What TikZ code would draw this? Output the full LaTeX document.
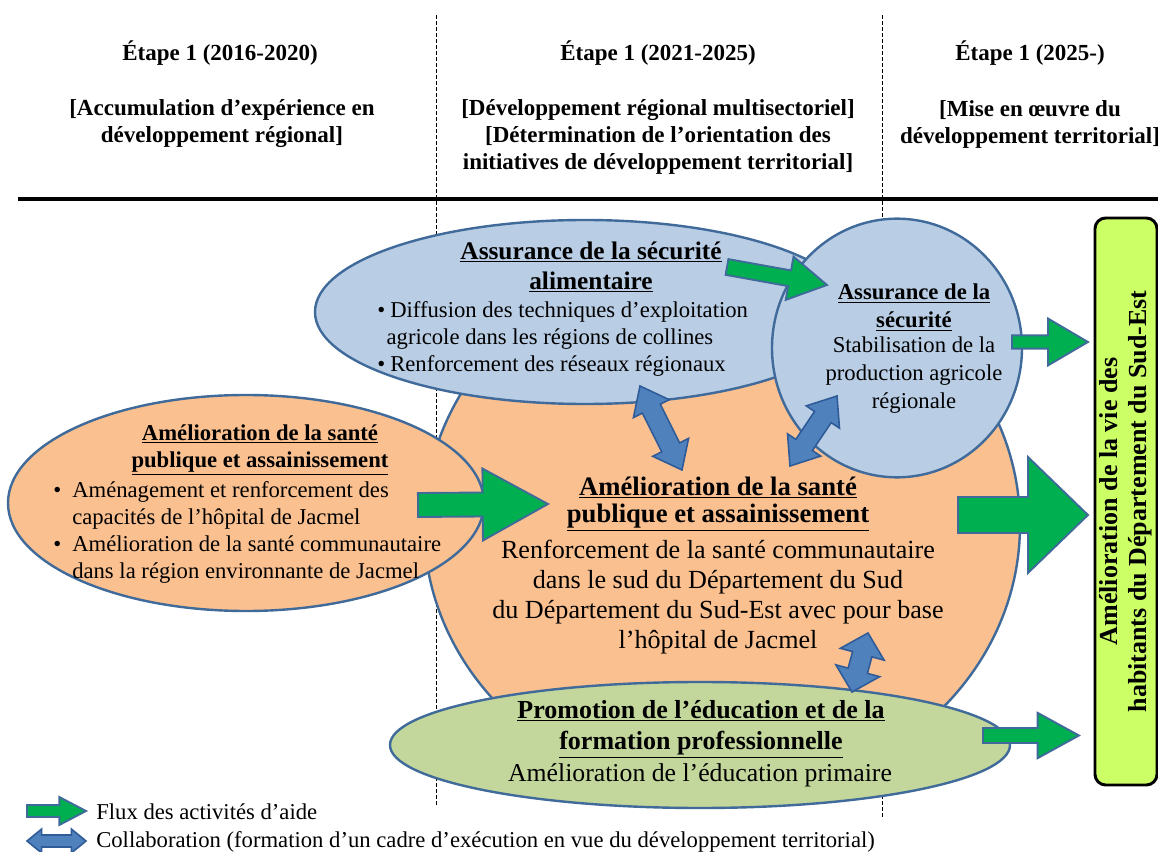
\documentclass[tikz,border=0pt]{standalone}
\usepackage{fontspec}
\setmainfont{Liberation Serif}
\usetikzlibrary{shapes.geometric,calc}
\definecolor{edge}{HTML}{3F6A99}
\definecolor{blueedge}{HTML}{2F5C99}
\definecolor{bluefill}{HTML}{B9CDE5}
\definecolor{orangefill}{HTML}{FAC090}
\definecolor{greenfill}{HTML}{C3D69B}
\definecolor{limefill}{HTML}{CCFF66}
\definecolor{arrgreen}{HTML}{00B050}
\definecolor{arrblue}{HTML}{4F81BD}
\newcommand\setfs[2]{\fontsize{#1pt}{#2pt}\selectfont}
\newcommand\uln[1]{\underline{#1}}
\newcommand\bltA{\makebox[14.25pt][l]{\textbullet}}
\newcommand\bltB{\makebox[9.75pt][l]{\textbullet}}
\newcommand\fatarrow[6]{%
  \coordinate (fa-h) at ($(#3)!#6!(#2)$);
  \filldraw[#1] ($(#2)!#4!90:(#3)$) -- ($(fa-h)!#4!90:(#3)$) -- ($(fa-h)!#5!90:(#3)$) -- (#3) -- ($(fa-h)!#5!-90:(#3)$) -- ($(fa-h)!#4!-90:(#3)$) -- ($(#2)!#4!-90:(#3)$) -- cycle;}
\newcommand\dblarrow[6]{%
  \coordinate (da-a) at ($(#2)!#6!(#3)$);
  \coordinate (da-b) at ($(#3)!#6!(#2)$);
  \filldraw[#1] (#2) -- ($(da-a)!#5!90:(#3)$) -- ($(da-a)!#4!90:(#3)$) -- ($(da-b)!#4!90:(#3)$) -- ($(da-b)!#5!90:(#3)$) -- (#3) -- ($(da-b)!#5!-90:(#3)$) -- ($(da-b)!#4!-90:(#3)$) -- ($(da-a)!#4!-90:(#3)$) -- ($(da-a)!#5!-90:(#3)$) -- cycle;}
\begin{document}
\begin{tikzpicture}[x=0.75pt,y=-0.75pt,
  hdr/.style={font={\setfs{17.25}{20.25}\bfseries}, inner sep=0pt, anchor=base},
  hdrm/.style={font={\setfs{17.25}{20.25}\bfseries}, inner sep=0pt, align=center},
  shp/.style={draw=edge, line width=1.8pt, inner sep=0pt},
  txt/.style={inner sep=0pt, align=center},
  ybox/.style={draw=black, line width=2.2pt, fill=limefill, rounded corners=8pt, inner sep=0pt, align=center},
  dashline/.style={line width=0.75pt, dash pattern=on 3pt off 1.5pt},
  garrow/.style={fill=arrgreen, draw=edge, line width=1.4pt, line join=miter},
  barrow/.style={fill=arrblue, draw=blueedge, line width=1.2pt, line join=miter},
]
\useasboundingbox (0,0) rectangle (1158,852);
\fill[white] (0,0) rectangle (1158,852);

% header
\node[hdr] (h1) at (220,61) {Étape 1 (2016-2020)};
\node[hdrm] (h1b) at (222,124) {[Accumulation d’expérience en\\développement régional]};
\node[hdr] (h2) at (658,61) {Étape 1 (2021-2025)};
\node[hdrm] (h2b) at (658,137) {[Développement régional multisectoriel]\\{[}Détermination de l’orientation des\\initiatives de développement territorial]};
\node[hdr] (h3) at (1030,61) {Étape 1 (2025-)};
\node[hdrm] (h3b) at (1030,124) {[Mise en œuvre du\\développement territorial]};

\coordinate (r1) at (18,199); \coordinate (r2) at (1158,199);
\draw[line width=3pt] (r1) -- (r2);
\coordinate (d1a) at (436,15); \coordinate (d1b) at (436,807);
\coordinate (d2a) at (882,15); \coordinate (d2b) at (882,817);
\draw[dashline] (d1a) -- (d1b);
\draw[dashline] (d2a) -- (d2b);

% shapes
\node[shp, ellipse, fill=orangefill, minimum width=447pt, minimum height=408pt] (oc) at (722,525) {};
\node[shp, ellipse, fill=orangefill, minimum width=357pt, minimum height=162pt] (le) at (246,503) {};
\node[shp, ellipse, fill=bluefill, minimum width=405pt, minimum height=138pt] (be) at (585,312) {};
\node[shp, ellipse, fill=bluefill, minimum width=187.5pt, minimum height=194pt] (bc) at (897,348) {};
\node[shp, ellipse, fill=greenfill, minimum width=465pt, minimum height=94.5pt] (ge) at (700,745) {};
\node[ybox, rotate=90, minimum width=425.25pt, minimum height=46.5pt, font={\setfs{19.5}{21.75}\bfseries}] (yb) at (1126,501.5) {Amélioration de la vie des\\habitants du Département du Sud-Est};

% green arrows
\coordinate (gA1) at (727,267); \coordinate (gA2) at (827,285);
\fatarrow{garrow}{gA1}{gA2}{6pt}{16.5pt}{28.5pt}
\coordinate (gB1) at (1012,342); \coordinate (gB2) at (1088,342);
\fatarrow{garrow}{gB1}{gB2}{5pt}{17.6pt}{30pt}
\coordinate (gC1) at (958,515); \coordinate (gC2) at (1088,515);
\fatarrow{garrow}{gC1}{gC2}{13.5pt}{43.5pt}{45pt}
\coordinate (gD1) at (983,735.5); \coordinate (gD2) at (1079,735.5);
\fatarrow{garrow}{gD1}{gD2}{5.6pt}{17pt}{31pt}
\coordinate (gE1) at (418,505); \coordinate (gE2) at (548,504);
\fatarrow{garrow}{gE1}{gE2}{9pt}{27pt}{49pt}
\coordinate (gL1) at (27,811); \coordinate (gL2) at (86,811);
\fatarrow{garrow}{gL1}{gL2}{4.5pt}{10.5pt}{20pt}

% blue double arrows
\coordinate (bA1) at (640,386); \coordinate (bA2) at (682,470);
\dblarrow{barrow}{bA1}{bA2}{7.5pt}{15pt}{19pt}
\coordinate (bB1) at (837,396); \coordinate (bB2) at (790,466);
\dblarrow{barrow}{bB1}{bB2}{7.5pt}{15pt}{19pt}
\coordinate (bC1) at (868,633); \coordinate (bC2) at (852,692);
\dblarrow{barrow}{bC1}{bC2}{7.5pt}{17pt}{16.5pt}
\coordinate (bL1) at (27,841); \coordinate (bL2) at (86,841);
\dblarrow{barrow}{bL1}{bL2}{4.5pt}{9pt}{11pt}

% texts
\node[txt, font={\setfs{19}{22.5}\bfseries}] (bet) at (591,267) {\uln{Assurance de la sécurité}\\\uln{alimentaire}};
\node[txt, align=left, anchor=west, font={\setfs{17}{20.25}}] (beb) at (377,339) {\bltB Diffusion des techniques d’exploitation\\\hspace*{7pt}agricole dans les régions de collines\\\bltB Renforcement des réseaux régionaux};

\node[txt, font={\setfs{17}{21}\bfseries}] (bct) at (914,307.5) {\uln{Assurance de la}\\\uln{sécurité}};
\node[txt, font={\setfs{17}{21}}] (bcb) at (914,375) {Stabilisation de la\\production agricole\\régionale};

\node[txt, font={\setfs{17}{20.25}\bfseries}] (let) at (260,450) {\uln{Amélioration de la santé}\\\uln{publique et assainissement}};
\node[txt, align=left, anchor=west, font={\setfs{17}{20.25}}] (leb) at (53,532) {\bltA Aménagement et renforcement des\\\hspace*{14.25pt}capacités de l’hôpital de Jacmel\\\bltA Amélioration de la santé communautaire\\\hspace*{14.25pt}dans la région environnante de Jacmel};

\node[txt, font={\setfs{20}{20.25}\bfseries}] (oct) at (718,504) {\uln{Amélioration de la santé}\\\uln{publique et assainissement}};
\node[txt, font={\setfs{19.6}{22.3}}] (ocb) at (718,597) {Renforcement de la santé communautaire\\dans le sud du Département du Sud\\du Département du Sud-Est avec pour base\\l’hôpital de Jacmel};

\node[txt, font={\setfs{19.5}{23.25}\bfseries}] (get) at (701,729) {\uln{Promotion de l’éducation et de la}\\\uln{formation professionnelle}};
\node[txt, anchor=base, font={\setfs{19.3}{23}}] (geb) at (700,781) {Amélioration de l’éducation primaire};

% legend
\node[inner sep=0pt, anchor=base west, font={\setfs{17}{20}}] (lg1) at (96,819) {Flux des activités d’aide};
\node[inner sep=0pt, anchor=base west, font={\setfs{17}{20}}] (lg2) at (96,847) {Collaboration (formation d’un cadre d’exécution en vue du développement territorial)};
\end{tikzpicture}
\end{document}
